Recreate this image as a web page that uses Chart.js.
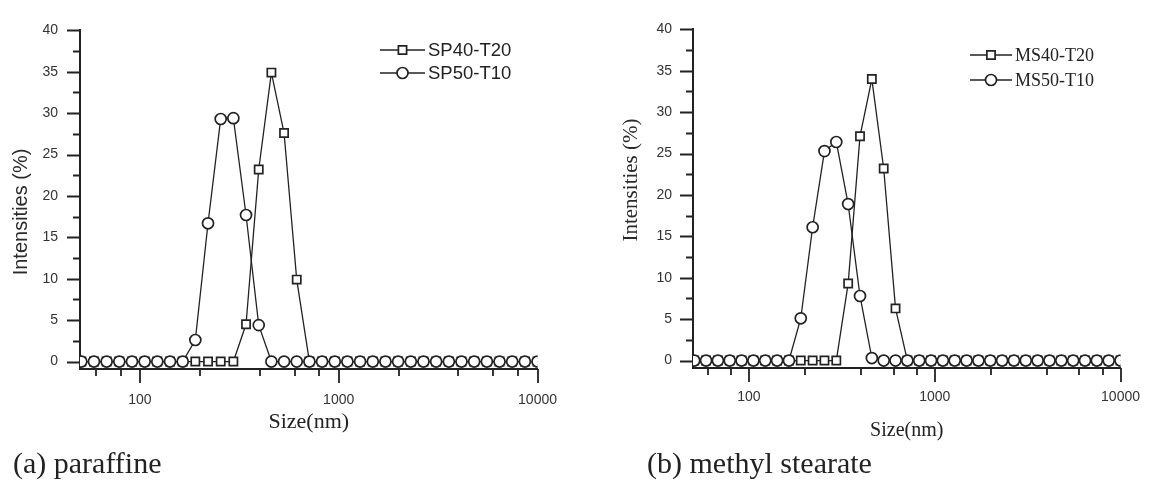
<!DOCTYPE html>
<html>
<head>
<meta charset="utf-8">
<script src="https://cdn.jsdelivr.net/npm/chart.js@4.4.1/dist/chart.umd.min.js"></script>
<style>
  body { margin: 0; background: #fff; }
  #wrap { position: relative; width: 1161px; height: 483px; overflow: hidden; }
  canvas { position: absolute; top: 0; }
  .cap { position: absolute; top: 448px; font: 30px/1 "Liberation Serif", serif; color: #222; white-space: nowrap; }
</style>
</head>
<body>
<div id="wrap">
  <canvas id="chart-a" width="580" height="483" style="left:0"></canvas>
  <canvas id="chart-b" width="581" height="483" style="left:580px"></canvas>
  <div class="cap" style="left:13px">(a) paraffine</div>
  <div class="cap" style="left:647px">(b) methyl stearate</div>
</div>
<script>
// size bins (nm)
const sizes = [50.75, 58.77, 68.06, 78.82, 91.28, 105.7, 122.4, 141.8, 164.2, 190.1,
  220.2, 255.0, 295.3, 342.0, 396.1, 458.7, 531.2, 615.1, 712.4, 825.0,
  955.4, 1106, 1281, 1484, 1718, 1990, 2305, 2669, 3091, 3580,
  4145, 4801, 5560, 6439, 7456, 8635, 10000];

// intensities (%)
const sp40 = [0, 0, 0, 0, 0, 0, 0, 0, 0, 0, 0, 0, 0, 4.5, 23.2, 34.9, 27.6, 9.9, 0, 0,
  0, 0, 0, 0, 0, 0, 0, 0, 0, 0, 0, 0, 0, 0, 0, 0, 0];
const sp50 = [0, 0, 0, 0, 0, 0, 0, 0, 0, 2.6, 16.7, 29.3, 29.4, 17.7, 4.4, 0, 0, 0, 0, 0,
  0, 0, 0, 0, 0, 0, 0, 0, 0, 0, 0, 0, 0, 0, 0, 0, 0];
const ms40 = [0, 0, 0, 0, 0, 0, 0, 0, 0, 0, 0, 0, 0, 9.3, 27.1, 34.0, 23.2, 6.3, 0, 0,
  0, 0, 0, 0, 0, 0, 0, 0, 0, 0, 0, 0, 0, 0, 0, 0, 0];
const ms50 = [0, 0, 0, 0, 0, 0, 0, 0, 0, 5.1, 16.1, 25.3, 26.4, 18.9, 7.8, 0.3, 0, 0, 0, 0,
  0, 0, 0, 0, 0, 0, 0, 0, 0, 0, 0, 0, 0, 0, 0, 0, 0];

// axis ticks
const xMajor = [100, 1000, 10000];
const xMinor = [60, 80, 200, 400, 600, 800, 2000, 4000, 6000, 8000];
const yMajor = [0, 5, 10, 15, 20, 25, 30, 35, 40];
const yMinor = [2.5, 7.5, 12.5, 17.5, 22.5, 27.5, 32.5, 37.5];

const INK = "#222";
const SANS = "'Liberation Sans', Arial, sans-serif";
const SERIF = "'Liberation Serif', 'Times New Roman', serif";

const toPoints = (vals) => sizes.map((s, i) => ({ x: s, y: vals[i] }));

// tick marks drawn outward, long for major and short for minor
const tickMarks = {
  id: "tickMarks",
  afterDraw(chart) {
    const { ctx, chartArea } = chart;
    const xs = chart.scales.x;
    const ys = chart.scales.y;
    ctx.save();
    ctx.strokeStyle = INK;
    ctx.lineWidth = 1.8;
    ctx.beginPath();
    yMajor.forEach((v) => {
      const p = Math.round(ys.getPixelForValue(v)) + 0.5;
      ctx.moveTo(chartArea.left - 13, p);
      ctx.lineTo(chartArea.left, p);
    });
    yMinor.forEach((v) => {
      const p = Math.round(ys.getPixelForValue(v)) + 0.5;
      ctx.moveTo(chartArea.left - 7, p);
      ctx.lineTo(chartArea.left, p);
    });
    xMajor.forEach((v) => {
      const p = Math.round(xs.getPixelForValue(v));
      ctx.moveTo(p, chartArea.bottom);
      ctx.lineTo(p, chartArea.bottom + 14);
    });
    xMinor.forEach((v) => {
      const p = Math.round(xs.getPixelForValue(v));
      ctx.moveTo(p, chartArea.bottom);
      ctx.lineTo(p, chartArea.bottom + 7);
    });
    ctx.stroke();
    ctx.restore();
  },
};

// rotated y title, placed where the original has it (not centred on the axis)
const sideTitle = {
  id: "sideTitle",
  afterDraw(chart, args, opts) {
    const { ctx } = chart;
    ctx.save();
    ctx.translate(opts.x, opts.y);
    ctx.rotate(-Math.PI / 2);
    ctx.font = opts.font;
    ctx.fillStyle = "#2a2a2a";
    ctx.textAlign = "center";
    ctx.textBaseline = "middle";
    ctx.fillText(opts.text, 0, 0);
    ctx.restore();
  },
};

// legend of the form  —□— label
const lineKey = {
  id: "lineKey",
  afterDraw(chart, args, opts) {
    const { ctx } = chart;
    ctx.save();
    chart.data.datasets.forEach((ds, i) => {
      const y = opts.y + i * opts.gap;
      ctx.strokeStyle = INK;
      ctx.lineWidth = 1.3;
      ctx.beginPath();
      ctx.moveTo(opts.x, y);
      ctx.lineTo(opts.x + opts.len, y);
      ctx.stroke();
      ctx.fillStyle = "#fff";
      ctx.lineWidth = ds.pointBorderWidth;
      Chart.helpers.drawPoint(ctx, {
        pointStyle: ds.pointStyle,
        radius: ds.pointRadius,
        borderWidth: ds.pointBorderWidth,
        rotation: 0,
      }, opts.x + opts.len / 2, y);
      ctx.fillStyle = INK;
      ctx.font = opts.font;
      ctx.textBaseline = "middle";
      ctx.fillText(ds.label, opts.x + opts.len + 3, y + 1);
    });
    ctx.restore();
  },
};

const makeSeries = (label, vals, square) => ({
  label,
  data: toPoints(vals),
  borderColor: INK,
  borderWidth: 1.3,
  pointStyle: square ? "rect" : "circle",
  pointRadius: square ? 5.8 : 5.5,
  pointBorderWidth: 1.7,
  pointBackgroundColor: "#fff",
  pointBorderColor: INK,
  order: square ? 1 : 0,
  tension: 0,
});

const makeChart = (el, cfg) => new Chart(el, {
  type: "line",
  data: {
    datasets: [
      makeSeries(cfg.names[0], cfg.squares, true),
      makeSeries(cfg.names[1], cfg.circles, false),
    ],
  },
  plugins: [tickMarks, sideTitle, lineKey],
  options: {
    responsive: false,
    animation: false,
    layout: { padding: { left: 0, top: 23, right: cfg.right, bottom: 0 } },
    plugins: {
      legend: { display: false },
      tooltip: { enabled: false },
      lineKey: cfg.key,
      sideTitle: cfg.yTitle,
    },
    scales: {
      x: {
        type: "logarithmic",
        min: 50,
        max: 10000,
        afterBuildTicks: (s) => { s.ticks = xMajor.map((v) => ({ value: v })); },
        afterFit: (s) => { s.height = cfg.xHeight; },
        grid: { display: false, drawTicks: false },
        border: { display: true, color: INK, width: 2 },
        ticks: {
          autoSkip: false,
          maxRotation: 0,
          padding: cfg.xPad,
          color: "#333",
          font: { family: SANS, size: 14 },
          callback: (v) => String(v),
        },
        title: {
          display: true,
          text: "Size(nm)",
          color: INK,
          font: { family: SERIF, size: cfg.xTitleSize, lineHeight: 1 },
          padding: { top: 0, bottom: cfg.xTitlePad },
        },
      },
      y: {
        min: -0.9,
        max: 40,
        afterBuildTicks: (s) => { s.ticks = yMajor.map((v) => ({ value: v })); },
        afterFit: (s) => { s.width = cfg.yWidth; },
        grid: { display: false, drawTicks: false },
        border: { display: true, color: INK, width: 2 },
        ticks: {
          padding: cfg.yPad,
          color: "#333",
          font: { family: SANS, size: 14 },
        },
      },
    },
  },
});

makeChart(document.getElementById("chart-a"), {
  names: ["SP40-T20", "SP50-T10"],
  squares: sp40,
  circles: sp50,
  right: 30,
  yWidth: 80,
  xHeight: 114,
  yPad: 22,
  xPad: 23,
  xTitleSize: 22,
  xTitlePad: 50,
  yTitle: { text: "Intensities (%)", x: 21, y: 212, font: "20px " + SANS },
  key: { x: 380, y: 50, gap: 23, len: 45, font: "18.5px " + SANS },
});

makeChart(document.getElementById("chart-b"), {
  names: ["MS40-T20", "MS50-T10"],
  squares: ms40,
  circles: ms50,
  right: 23,
  yWidth: 113,
  xHeight: 115,
  yPad: 21,
  xPad: 21,
  xTitleSize: 20,
  xTitlePad: 42,
  yTitle: { text: "Intensities (%)", x: 51, y: 180, font: "21px " + SERIF },
  key: { x: 390, y: 55, gap: 25, len: 42, font: "18px " + SERIF },
});
</script>
</body>
</html>
